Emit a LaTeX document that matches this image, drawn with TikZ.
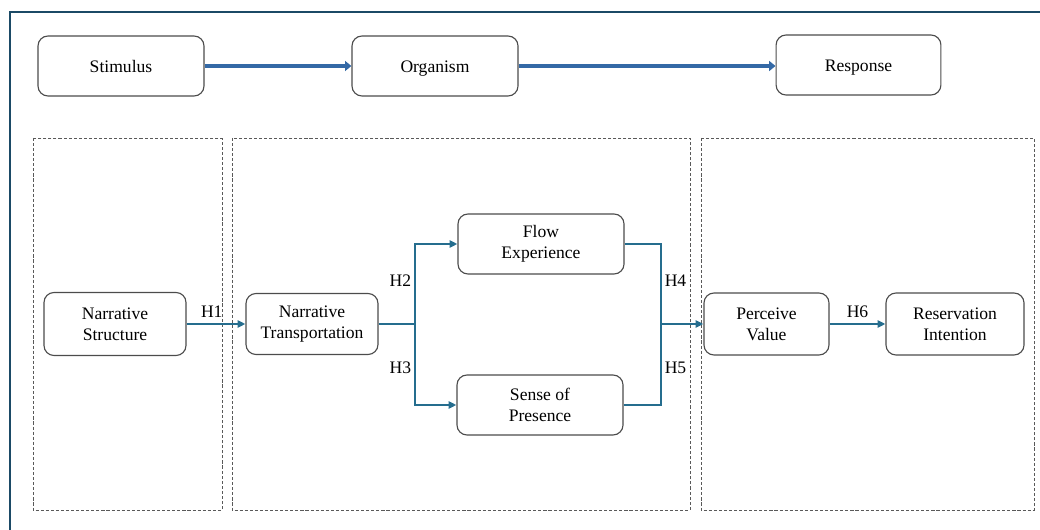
\documentclass[tikz,border=0pt]{standalone}
\usepackage{fontspec}
\setmainfont{Liberation Serif}
\usetikzlibrary{positioning}
\usetikzlibrary{arrows.meta}
\definecolor{frameblue}{HTML}{1B4A66}
\definecolor{sorblue}{HTML}{3469A6}
\definecolor{pathteal}{HTML}{256D8E}
\tikzstyle{construct}=[draw=black!70, line width=0.8pt, rounded corners=0.25cm, fill=white, align=center, font=\fontsize{12.5}{15}\selectfont]
\tikzstyle{oneline}=[text height=10pt, text depth=1pt]
\tikzstyle{stage}=[draw=black!65, line width=0.6pt, dash pattern=on 2.2pt off 1.4pt]
\tikzstyle{sor}=[-{Triangle[length=4.5pt,width=7pt]}, draw=sorblue, line width=2.8pt]
\tikzstyle{link}=[-{Triangle[length=5.5pt,width=5pt]}, draw=pathteal, line width=1.4pt]
\tikzstyle{hlabel}=[text=black, font=\fontsize{12.5}{15}\selectfont, inner sep=2pt]

\begin{document}
\begin{tikzpicture}[x=0.025cm, y=-0.025cm]
    \useasboundingbox (0,0) rectangle (1040,530);
    \clip (0,0) rectangle (1040,530);
    \draw[frameblue, line width=1.6pt] (10,540) -- (10,12) -- (1050,12);

    % stages
    \draw[stage] (33,138) rectangle (222,510);
    \draw[stage] (232,138) rectangle (690,510);
    \draw[stage] (701,138) rectangle (1034,510);

    % S-O-R row
    \node[construct, oneline, minimum width=4.15cm, minimum height=1.5cm] (stimulus) at (121,66) {Stimulus};
    \node[construct, oneline, minimum width=4.15cm, minimum height=1.5cm] (organism) at (435,66) {Organism};
    \node[construct, oneline, minimum width=4.12cm, minimum height=1.5cm] (response) at (858.5,65) {Response};

    \draw[sor] (stimulus) to (organism);
    \draw[sor] (organism.east) to (organism.east -| response.west);

    % model
    \node[construct, minimum width=3.55cm, minimum height=1.575cm] (structure)      at (115,324) {Narrative\\Structure};
    \node[construct, minimum width=3.3cm,  minimum height=1.525cm] (transportation) at (312,324) {Narrative\\Transportation};
    \node[construct, minimum width=4.15cm, minimum height=1.5cm]   (flow)           at (541,244) {Flow\\Experience};
    \node[construct, minimum width=4.15cm, minimum height=1.5cm]   (presence)       at (540,405) {Sense of\\Presence};
    \node[construct, minimum width=3.125cm, minimum height=1.55cm] (value)          at (766.5,324) {Perceive\\Value};
    \node[construct, minimum width=3.45cm, minimum height=1.55cm]  (intention)      at (955,324) {Reservation\\Intention};

    \coordinate (split) at (415,324);
    \coordinate (merge) at (661,324);

    \draw[link] (structure) to node[hlabel, above, xshift=-3pt, yshift=2pt] {H1} (transportation);
    \draw[pathteal, line width=1.4pt] (transportation.east) -- (split);
    \draw[link] (split) |- node[hlabel, pos=0.27, left] {H2} (flow.west);
    \draw[link] (split) |- node[hlabel, pos=0.27, left] {H3} (presence.west);
    \draw[pathteal, line width=1.4pt] (flow.east) -| node[hlabel, pos=0.73, right] {H4} (merge);
    \draw[pathteal, line width=1.4pt] (presence.east) -| node[hlabel, pos=0.73, right] {H5} (merge);
    \draw[link] (merge) -- (merge -| value.west);
    \draw[link] (value) to node[hlabel, above, yshift=2pt] {H6} (intention);
\end{tikzpicture}
\end{document}
